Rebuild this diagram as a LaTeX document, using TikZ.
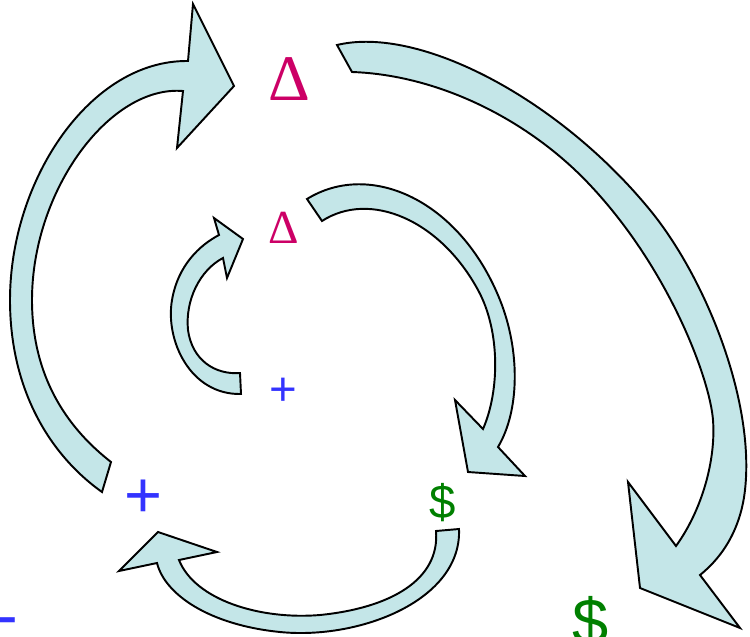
\documentclass[tikz,border=0pt]{standalone}
\usepackage{fontspec}
\setmainfont{Liberation Serif}
\newfontfamily\arialfont{Liberation Sans}
\usepackage{tikz}
\usepackage{xcolor}
\usetikzlibrary{positioning}
\definecolor{Loop_Fill}{HTML}{C4E6E8}
\definecolor{Delta_Red}{HTML}{CC0066}
\definecolor{Plus_Blue}{HTML}{3333FF}
\definecolor{Cash_Green}{HTML}{008000}

\tikzset{
  bentarrow/.style={draw=black, fill=Loop_Fill, line width=1.1pt, line join=miter},
  bigsym/.style={inner sep=0pt, anchor=base, font=\fontsize{37}{37}\selectfont},
  smallsym/.style={inner sep=0pt, anchor=base, font=\fontsize{27}{27}\selectfont},
  bigsans/.style={bigsym, font=\arialfont\fontsize{37}{37}\selectfont},
  smallsans/.style={smallsym, font=\arialfont\fontsize{27}{27}\selectfont}
}

\begin{document}
\begin{tikzpicture}[x={(0.02cm,0)}, y={(0,-0.02cm)}]
    \useasboundingbox (0,0) rectangle (750,636);
    \clip (0,0) rectangle (750,636);

    % Outer loop, left arrow (+ to Delta)
    \filldraw[bentarrow] (102,492) .. controls (50,455) and (10,390) .. (10,300)
        .. controls (10,180) and (90,60) .. (188,61)
        -- (193,4) -- (234,86) -- (177,148) -- (183,91)
        .. controls (110,85) and (32,190) .. (32,300)
        .. controls (32,380) and (70,430) .. (111,462) -- cycle;

    % Outer loop, right arrow (Delta to $)
    \filldraw[bentarrow] (337,45) .. controls (420,25) and (560,100) .. (650,210)
        .. controls (705,277) and (755,400) .. (745,490)
        .. controls (741,526) and (725,555) .. (700,575)
        -- (740,628) -- (640,588) -- (628,482) -- (676,546)
        .. controls (702,510) and (716,460) .. (713,420)
        .. controls (710,380) and (670,270) .. (590,185)
        .. controls (530,121) and (440,75) .. (352,72) -- cycle;

    % Inner loop, right arrow (Delta to $)
    \filldraw[bentarrow] (307,199) .. controls (370,160) and (460,200) .. (500,300)
        .. controls (520,350) and (520,410) .. (498,447)
        -- (525,476) -- (468,472) -- (455,400) -- (483,429)
        .. controls (500,390) and (500,330) .. (478,290)
        .. controls (440,220) and (370,190) .. (322,221) -- cycle;

    % Inner loop, small arrow (+ to Delta)
    \filldraw[bentarrow] (241,394) .. controls (190,395) and (165,340) .. (172,300)
        .. controls (178,265) and (200,245) .. (219,235)
        -- (214,218) -- (243,239) -- (227,278) -- (223,258)
        .. controls (200,270) and (185,300) .. (188,330)
        .. controls (192,360) and (215,375) .. (240,373) -- cycle;

    % Bottom arrow ($ to +)
    \filldraw[bentarrow] (459,529) .. controls (462,600) and (360,640) .. (280,632)
        .. controls (210,625) and (165,595) .. (157,563)
        -- (119,571) -- (158,532) -- (217,552) -- (179,560)
        .. controls (195,600) and (260,620) .. (320,615)
        .. controls (390,608) and (440,580) .. (436,531) -- cycle;

    % Symbols
    \node[bigsym, Delta_Red] (deltaOuter) at (289,100) {Δ};
    \node[smallsym, Delta_Red] (deltaInner) at (284,243) {Δ};
    \node[smallsans, Plus_Blue] (plusInner) at (283,405) {+};
    \node[bigsans, Plus_Blue] (plusOuter) at (143,517) {+};
    \node[smallsans, Cash_Green] (cashInner) at (443,518) {\$};
    \node[bigsans, Cash_Green] (cashOuter) at (591,644) {\$};
    \node[bigsans, Plus_Blue] (minusOuter) at (7,637) {-};

\end{tikzpicture}
\end{document}
